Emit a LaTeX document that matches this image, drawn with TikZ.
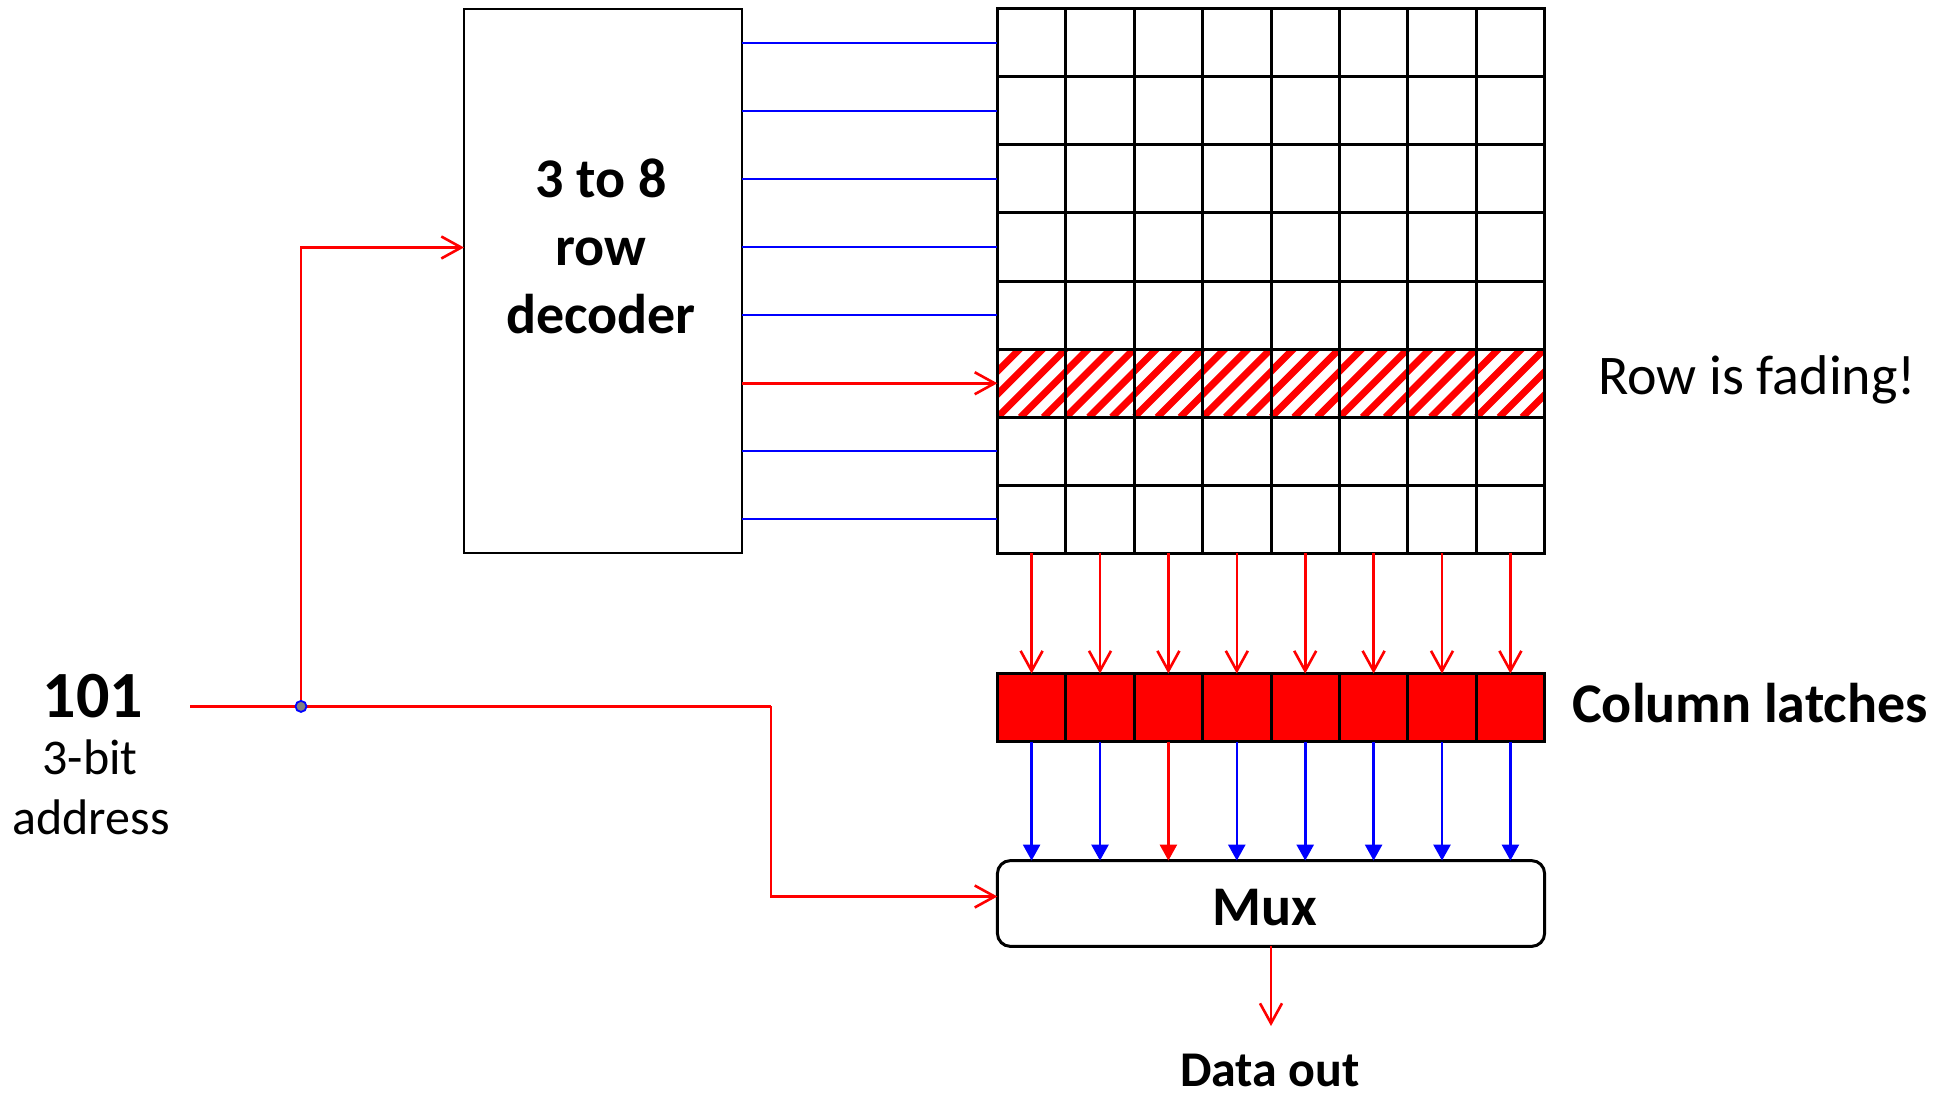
\documentclass[tikz,border=0pt]{standalone}
\usepackage{fontspec}
\setmainfont{Carlito}
\usetikzlibrary{arrows.meta}
\definecolor{pred}{RGB}{255,0,0}
\definecolor{pblue}{RGB}{0,0,255}
\begin{document}
\begin{tikzpicture}[x=0.5pt,y=-0.5pt,
  cellbox/.style={draw=black, line width=1.5pt, minimum width=34.2pt, minimum height=34.05pt, inner sep=0pt, outer sep=0pt},
  hatchcell/.style={cellbox, path picture={
      \foreach \k in {-3,...,3}{
        \draw[pred, line width=3.5pt] ([xshift=\k*11.5pt]path picture bounding box.south west) -- ++(36pt,36pt);
      }}},
  latchbox/.style={cellbox, fill=pred},
  redarr/.style={draw=pred, line width=1.3pt, -{Straight Barb[length=10pt,width=11pt]}},
  bluearr/.style={draw=pblue, line width=1.3pt, -{Triangle[length=8pt,width=8.5pt]}},
  redtri/.style={draw=pred, line width=1.3pt, -{Triangle[length=8pt,width=8.5pt]}},
  bluewire/.style={draw=pblue, line width=1pt},
  boldtxt/.style={font=\fontsize{28}{34}\selectfont\bfseries, inner sep=0pt},
  plaintxt/.style={font=\fontsize{28}{34}\selectfont, inner sep=0pt}
]
\useasboundingbox (0,0) rectangle (1950,1096);

% decoder
\node[draw=black, line width=1pt, minimum width=139.2pt, minimum height=272.35pt, inner sep=0pt, outer sep=0pt] (dec) at (603.2,281) {};
\node[boldtxt, align=center] (dectext) at (601,246) {3 to 8\\row\\decoder};

% memory grid
\foreach \r in {1,...,8}{
  \foreach \c in {1,...,8}{
    \ifnum\r=6
      \node[hatchcell] (cell-\r-\c) at ({997.4+68.4*(\c-0.5)}, {8.7+68.1*(\r-0.5)}) {};
    \else
      \node[cellbox] (cell-\r-\c) at ({997.4+68.4*(\c-0.5)}, {8.7+68.1*(\r-0.5)}) {};
    \fi
  }
}

% word lines
\foreach \r in {1,...,8}{
  \ifnum\r=6
    \draw[redarr] (dec.east |- cell-\r-1.west) -- (cell-\r-1.west);
  \else
    \draw[bluewire] (dec.east |- cell-\r-1.west) -- (cell-\r-1.west);
  \fi
}

% column latches
\foreach \c in {1,...,8}{
  \node[latchbox] (latch-\c) at ({997.4+68.4*(\c-0.5)}, 707.6) {};
}

% mux
\node[draw=black, line width=1.5pt, rounded corners=6.5pt, minimum width=273.6pt, minimum height=42.9pt, inner sep=0pt, outer sep=0pt] (mux) at (1271,903.5) {};
\node[boldtxt] (muxlabel) at (1265,908) {Mux};

% grid -> latches
\foreach \c in {1,...,8}{
  \draw[redarr] (cell-8-\c.south) -- (latch-\c.north);
}
% latches -> mux
\foreach \c in {1,...,8}{
  \ifnum\c=3
    \draw[redtri] (latch-\c.south) -- (latch-\c.south |- mux.north);
  \else
    \draw[bluearr] (latch-\c.south) -- (latch-\c.south |- mux.north);
  \fi
}

% data out
\node[font=\fontsize{25}{30}\selectfont\bfseries, inner sep=0pt] (dataout) at (1270,1070) {Data out};
\coordinate (outend) at (1271,1026);
\draw[redarr] (mux.south) -- (outend);

% labels
\node[plaintxt] (fading) at (1757,380) {Row is fading!};
\node[boldtxt] (collabel) at (1750,703) {Column latches};

% address
\node[font=\fontsize{33}{40}\selectfont\bfseries, inner sep=0pt] (addr101) at (93,696) {101};
\node[font=\fontsize{25}{30}\selectfont, inner sep=0pt] (addrbit) at (90,757) {3-bit};
\node[font=\fontsize{25}{30}\selectfont, inner sep=0pt] (addrword) at (91,817) {address};

\coordinate (astart) at (190,706.4);
\coordinate (junc) at (301,706.4);
\coordinate (acorner) at (771,706.4);
\draw[pred, line width=1.3pt] (astart) -- (acorner);
\draw[redarr] (acorner) |- ([yshift=3.5pt]mux.west);
\draw[redarr] (junc) |- ([yshift=16.75pt]dec.west);
\node[circle, draw=pblue, fill=gray, line width=0.9pt, minimum size=5.5pt, inner sep=0pt] (jdot) at (junc) {};
\end{tikzpicture}
\end{document}
